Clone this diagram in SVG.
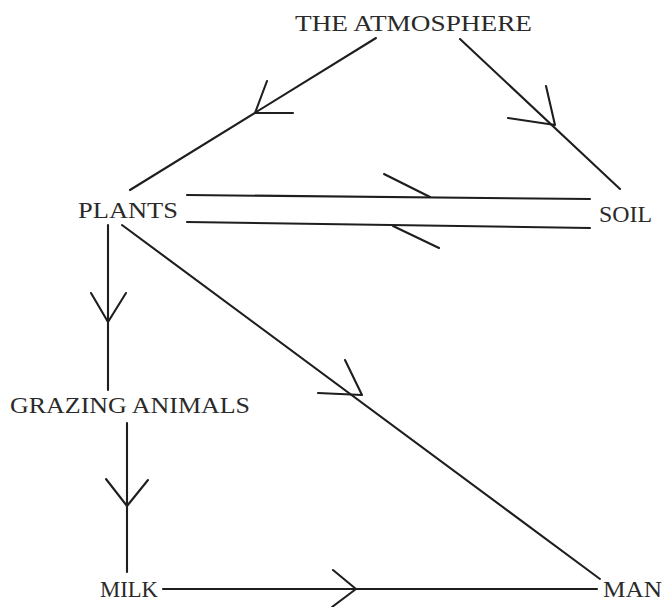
<svg xmlns="http://www.w3.org/2000/svg" width="666" height="607" viewBox="0 0 666 607">
<style>
  text { font-family: "Liberation Serif", "DejaVu Serif", serif; font-size: 23.5px; fill: #2a2a2a; }
  .c line, .c polyline { stroke: #1e1e1e; stroke-width: 2.1; fill: none; stroke-linecap: round; stroke-linejoin: round; }
</style>
<rect width="666" height="607" fill="#ffffff"/>
<g id="atmosphere"><text x="295" y="31" textLength="237" lengthAdjust="spacingAndGlyphs">THE ATMOSPHERE</text></g>
<g id="plants"><text x="78" y="218" textLength="100" lengthAdjust="spacingAndGlyphs">PLANTS</text></g>
<g id="soil"><text x="599" y="222" textLength="53" lengthAdjust="spacingAndGlyphs">SOIL</text></g>
<g id="grazing-animals"><text x="10" y="413" textLength="240" lengthAdjust="spacingAndGlyphs">GRAZING ANIMALS</text></g>
<g id="milk"><text x="100" y="597" textLength="58" lengthAdjust="spacingAndGlyphs">MILK</text></g>
<g id="man"><text x="603" y="597" textLength="59" lengthAdjust="spacingAndGlyphs">MAN</text></g>
<g id="connectors" class="c">
  <!-- atmosphere -> plants -->
  <line x1="376" y1="38" x2="130" y2="190"/>
  <polyline points="267,81 255,113 293,113"/>
  <!-- atmosphere -> soil -->
  <line x1="460" y1="39" x2="620" y2="189"/>
  <polyline points="546,86 555,125 508,118"/>
  <!-- plants -> soil -->
  <line x1="187" y1="195" x2="590" y2="199"/>
  <polyline points="384,174 430,197"/>
  <!-- soil -> plants -->
  <line x1="187" y1="222" x2="590" y2="228"/>
  <polyline points="439,248 393,226"/>
  <!-- plants -> grazing animals -->
  <line x1="108" y1="225" x2="108" y2="390"/>
  <polyline points="91,293 108,322 126,293"/>
  <!-- plants -> man -->
  <line x1="122" y1="225" x2="600" y2="579"/>
  <polyline points="345,360 362,395 318,393"/>
  <!-- grazing animals -> milk -->
  <line x1="127" y1="423" x2="127" y2="572"/>
  <polyline points="106,479 127,506 148,480"/>
  <!-- milk -> man -->
  <line x1="163" y1="589" x2="597" y2="589"/>
  <polyline points="333,570 356,589 332,607"/>
</g>
</svg>
